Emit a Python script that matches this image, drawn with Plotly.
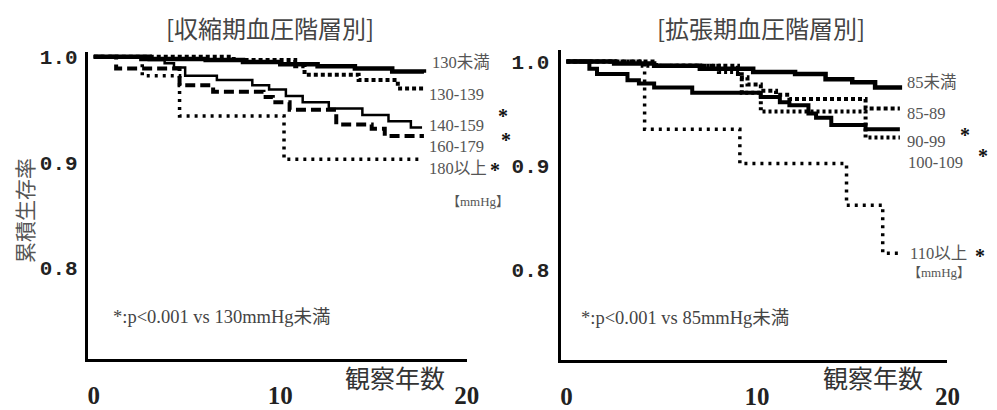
import plotly.graph_objects as go

W, H = 997, 410

# ---------------- data ----------------
# Left panel: systolic BP strata
sbp_labels = ["130未満", "130-139", "140-159", "160-179", "180以上"]
sbp_t = [
    [0, 3.0, 6.0, 8.0, 10.0, 12.0, 14.0, 16.0, 17.7],
    [0, 7.5, 10.8, 11.3, 14.2, 16.3, 17.7],
    [0, 2.5, 3.8, 4.3, 4.9, 6.6, 8.5, 9.4, 10.3, 11.2, 12.6, 14.4, 15.8, 17.0, 17.6],
    [0, 1.2, 4.6, 6.4, 9.1, 9.6, 10.5, 13.0, 14.9, 15.6, 17.7],
    [0, 2.6, 4.6, 10.2, 17.6],
]
sbp_s = [
    [1.0, 0.998, 0.997, 0.995, 0.993, 0.991, 0.989, 0.986, 0.985],
    [1.0, 0.997, 0.991, 0.983, 0.978, 0.970, 0.970],
    [1.0, 0.997, 0.994, 0.990, 0.982, 0.978, 0.973, 0.969, 0.963, 0.957, 0.951, 0.945, 0.939, 0.933, 0.933],
    [1.0, 0.989, 0.973, 0.967, 0.962, 0.957, 0.950, 0.936, 0.932, 0.925, 0.925],
    [1.0, 0.982, 0.944, 0.903, 0.903],
]

# Right panel: diastolic BP strata
dbp_labels = ["85未満", "85-89", "90-99", "100-109", "110以上"]
dbp_t = [
    [0, 2.5, 4.6, 7.0, 9.8, 12.0, 13.6, 15.0, 16.2, 17.5],
    [0, 4.7, 9.0, 9.5, 10.2, 11.0, 11.7, 15.7, 17.5],
    [0, 4.0, 8.0, 9.2, 10.2, 14.5, 15.7, 17.5],
    [0, 1.2, 1.6, 3.2, 3.8, 4.6, 6.6, 10.0, 10.2, 11.2, 11.7, 12.7, 13.1, 13.9, 15.7, 17.5],
    [0, 4.1, 9.1, 14.7, 16.6, 17.6],
]
dbp_s = [
    [1.0, 0.998, 0.996, 0.993, 0.990, 0.988, 0.983, 0.980, 0.975, 0.973],
    [1.0, 0.996, 0.985, 0.978, 0.972, 0.968, 0.964, 0.955, 0.955],
    [1.0, 0.996, 0.990, 0.970, 0.952, 0.952, 0.927, 0.927],
    [1.0, 0.993, 0.988, 0.982, 0.979, 0.975, 0.970, 0.970, 0.966, 0.961, 0.958, 0.950, 0.946, 0.939, 0.935, 0.935],
    [1.0, 0.935, 0.902, 0.862, 0.816, 0.816],
]

x_ticks = [0, 10, 20]
x_ticktext = ["0", "10", "20"]
y_ticks = [0.8, 0.9, 1.0]
y_ticktext = ["0.8", "0.9", "1.0"]

# ---------------- styles ----------------
sbp_style = [
    dict(width=4.5, dash="solid"),
    dict(width=4, dash="4px,3px"),
    dict(width=2.5, dash="solid"),
    dict(width=4, dash="10px,5px"),
    dict(width=3.5, dash="3px,5px"),
]
dbp_style = [
    dict(width=4.5, dash="solid"),
    dict(width=4, dash="4px,3px"),
    dict(width=4, dash="3px,3px"),
    dict(width=4, dash="solid"),
    dict(width=3.5, dash="3px,5px"),
]

fig = go.Figure()
for t, s, lab, st in zip(sbp_t, sbp_s, sbp_labels, sbp_style):
    fig.add_trace(go.Scatter(x=t, y=s, mode="lines", name=lab, xaxis="x", yaxis="y",
                             line=dict(color="black", shape="hv", **st), showlegend=False))
for t, s, lab, st in zip(dbp_t, dbp_s, dbp_labels, dbp_style):
    fig.add_trace(go.Scatter(x=t, y=s, mode="lines", name=lab, xaxis="x2", yaxis="y2",
                             line=dict(color="black", shape="hv", **st), showlegend=False))


def px(x):
    return x / W


def py(y):
    return 1 - y / H


tickfont_y = dict(family="Liberation Mono", size=21, color="#222", weight="bold")
tickfont_x = dict(family="Liberation Serif", size=25, color="#222", weight="bold")

axis_common = dict(showgrid=False, zeroline=False, showline=True, linecolor="black",
                   linewidth=3, ticks="", fixedrange=True)

fig.update_layout(
    width=W, height=H,
    margin=dict(l=0, r=0, t=0, b=0),
    paper_bgcolor="white", plot_bgcolor="white",
    xaxis=dict(domain=[px(89), px(473)], range=[-0.317, 20.0], tickvals=x_ticks,
               ticktext=x_ticktext, tickfont=tickfont_x, ticklabelstandoff=12,
               anchor="y", **axis_common),
    yaxis=dict(domain=[py(373), py(50)], range=[0.714, 1.005], tickvals=y_ticks,
               ticktext=y_ticktext, tickfont=tickfont_y, ticklabelstandoff=3,
               anchor="x", **axis_common),
    xaxis2=dict(domain=[px(568), px(960)], range=[-0.311, 20.0], tickvals=x_ticks,
                ticktext=x_ticktext, tickfont=tickfont_x, ticklabelstandoff=12,
                anchor="y2", **axis_common),
    yaxis2=dict(domain=[py(374), py(48)], range=[0.7137, 1.0114], tickvals=y_ticks,
                ticktext=y_ticktext, tickfont=tickfont_y, ticklabelstandoff=4,
                anchor="x2", **axis_common),
)

lab_font = dict(family="Liberation Serif, Noto Sans CJK JP", size=16.5, color="#555")
annos = []


def add_text(text, x, y, font, xanchor="left", yanchor="middle", textangle=0):
    annos.append(dict(text=text, x=px(x), y=py(y), xref="paper", yref="paper",
                      xanchor=xanchor, yanchor=yanchor, showarrow=False, font=font,
                      textangle=textangle))


# series labels - left
for lab, (x, y) in zip(sbp_labels, [(436, 62), (433, 95), (433, 128), (433, 150), (433, 173)]):
    add_text(lab, x, y, lab_font)
add_text("【mmHg】", 451, 208, dict(lab_font, size=13))
# series labels - right
for lab, (x, y) in zip(dbp_labels, [(917, 83), (917, 115), (917, 145), (918, 167), (920, 262)]):
    add_text(lab, x, y, lab_font)
add_text("【mmHg】", 918, 282, dict(lab_font, size=13))

# significance marks
star_font = dict(family="Liberation Serif", size=20, color="#111", weight="bold")
for (x, y) in [(510, 118), (513, 143), (502, 175), (978, 138), (996, 160), (993, 265)]:
    add_text("*", x, y, star_font, xanchor="center")

# subtitles
sub_font = dict(family="Noto Sans CJK JP", size=24, color="#444")
add_text("[収縮期血圧階層別]", 274, 25, sub_font, xanchor="center")
add_text("[拡張期血圧階層別]", 771, 25, sub_font, xanchor="center")

# footnotes
foot_font = dict(family="Liberation Serif, Noto Sans CJK JP", size=18.5, color="#444")
add_text("*:p<0.001 vs 130mmHg未満", 112, 329, foot_font)
add_text("*:p<0.001 vs 85mmHg未満", 587, 330, foot_font)

# axis titles
xt_font = dict(family="Noto Sans CJK JP", size=25, color="#333")
add_text("観察年数", 400, 392, xt_font, xanchor="center")
add_text("観察年数", 885, 392, xt_font, xanchor="center")
add_text("累積生存率", 25, 217, dict(family="Noto Sans CJK JP", size=21, color="#555"),
         xanchor="center", textangle=-90)

fig.update_layout(annotations=annos)
fig.write_html("out.html")
